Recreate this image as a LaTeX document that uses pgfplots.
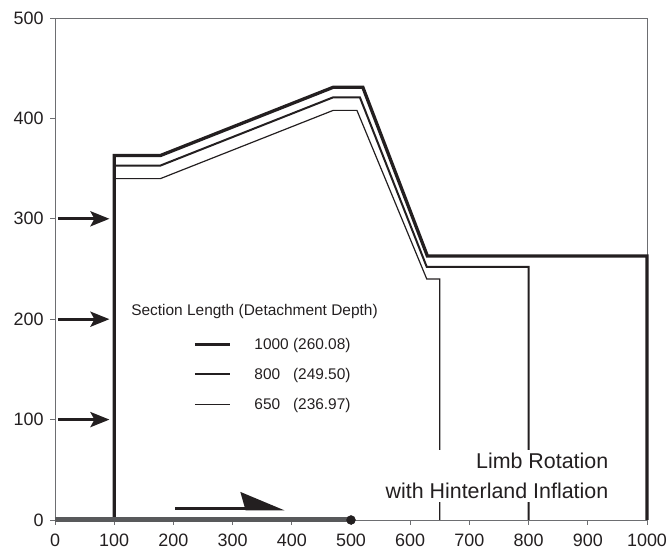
\documentclass[border=0pt]{standalone}
\usepackage{fontspec}
\setmainfont{Liberation Sans}
\usepackage{pgfplots}
\pgfplotsset{compat=1.18}
\usetikzlibrary{arrows.meta}
\definecolor{ink}{HTML}{231F20}
\definecolor{basegray}{HTML}{58595B}
\definecolor{frame}{HTML}{6D6E71}

\begin{document}
\begin{tikzpicture}
\begin{axis}[
  scale only axis,
  width=592bp, height=502bp,
  xmin=0, xmax=1000, ymin=0, ymax=500,
  xtick={0,100,...,1000}, ytick={0,100,...,500},
  tick pos=left, tick align=outside,
  major tick length=5bp,
  axis line style={frame, line width=0.7bp},
  tick style={frame, line width=0.7bp},
  ticklabel style={font=\fontsize{18}{21}\selectfont, text=ink},
  xticklabel style={yshift=-5bp},
  yticklabel style={xshift=-3bp},
  /pgf/number format/assume math mode=true,
  /pgf/number format/1000 sep={},
  clip=false,
  legend style={draw=none, fill=none, at={(axis cs:233,181)}, anchor=north west,
    font=\fontsize{15.5}{18}\selectfont, text=ink, row sep=17bp, column sep=23bp,
    inner sep=0pt, nodes={inner sep=0pt}},
  legend cell align=left,
  legend image code/.code={\draw[#1] (0bp,0bp) -- (35bp,0bp);},
]
% section length 1000
\addplot[ink, line width=3.3bp] coordinates {
  (100,0) (100,363) (178,363) (470,431) (520,431) (629,263) (1000,263) (1000,0)
};
\addlegendentry{1000 (260.08)}
% section length 800
\addplot[ink, line width=2bp] coordinates {
  (100,353) (178,353) (470,421) (515,421) (628,252) (800,252) (800,0)
};
\addlegendentry{800\phantom{0} (249.50)}
% section length 650
\addplot[ink, line width=1.2bp] coordinates {
  (100,340) (178,340) (470,408) (510,408) (628,240) (650,240) (650,0)
};
\addlegendentry{650\phantom{0} (236.97)}

% detachment and push arrows
\addplot[basegray, line width=5bp, forget plot] coordinates {(0,0) (500,0)};
\addplot[only marks, mark=*, mark size=4.5bp, ink, forget plot] coordinates {(500,0)};
\addplot[ink, line width=3.3bp, -{Stealth[length=19bp, width=15bp, inset=4bp]}, forget plot]
  coordinates {(5,300) (92,300)};
\addplot[ink, line width=3.3bp, -{Stealth[length=19bp, width=15bp, inset=4bp]}, forget plot]
  coordinates {(5,200) (92,200)};
\addplot[ink, line width=3.3bp, -{Stealth[length=19bp, width=15bp, inset=4bp]}, forget plot]
  coordinates {(5,100) (92,100)};
\addplot[ink, line width=3bp, forget plot] coordinates {(203,11) (330,11)};
\addplot[fill=ink, draw=none, forget plot] coordinates {(313,28) (322,9.5) (388,9.5)} -- cycle;

\node[anchor=west, font=\fontsize{15.5}{18}\selectfont, text=ink] at (axis cs:123,208)
  {Section Length (Detachment Depth)};
\node[anchor=east, align=right, fill=white, inner sep=3bp,
  font=\fontsize{21.5}{31}\selectfont, text=ink] at (axis cs:940,44)
  {Limb Rotation\\with Hinterland Inflation};
\end{axis}
\pgfresetboundingbox
\path ([xshift=-55bp,yshift=-32bp]current axis.south west)
  rectangle ([xshift=21bp,yshift=18bp]current axis.north east);
\end{tikzpicture}
\end{document}
